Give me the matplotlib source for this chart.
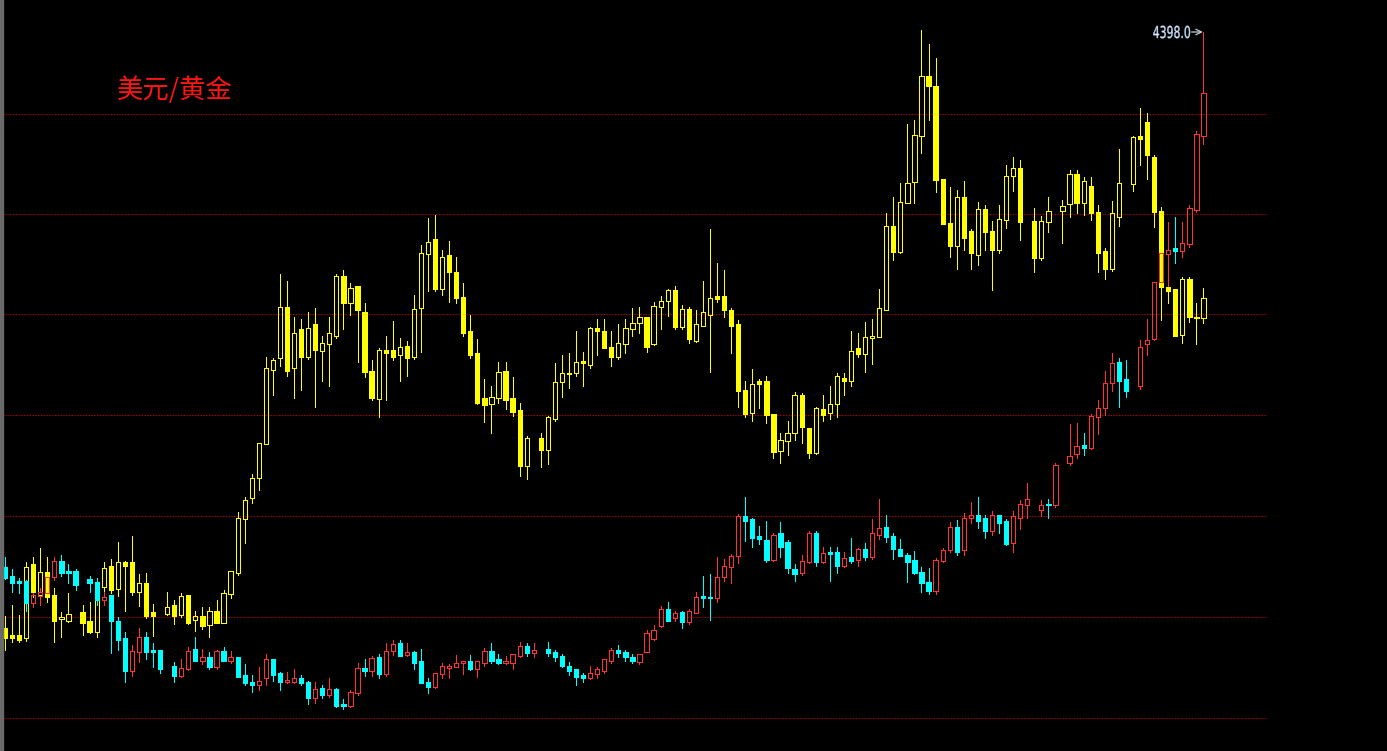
import numpy as np
import matplotlib
matplotlib.use("Agg")
import matplotlib.pyplot as plt
from matplotlib.patches import Rectangle, PathPatch
from matplotlib.textpath import TextPath
from matplotlib.font_manager import FontProperties
from matplotlib.transforms import Affine2D

N = None

# yellow series (drawn as 美元 overlay), weekly OHLC in chart price units
usd_open = [2015, 1986, 1986, 1975, 2270, 2146, 2239, 2146, 2050, 2043,
            N, 2077, 2042, 1997, 2179, 2262, 2169, 2277, 2277, 2159,
            2195, 2077, N, 2070, 2105, 2065, 2146, 2046, 2062, 2025,
            2083, 2035, 2149, 2235, 2451, 2533, 2615, 2749, 3046, 3093,
            3297, 3053, 3209, 3099, 3230, 3122, 3149, 3182, 3423, 3315,
            3382, 3277, 3042, 2929, 3126, 3126, 3106, 3142, 3099, 3293,
            3509, 3569, 3369, 3506, 3437, 3339, 3202, 3113, 2933, 2910,
            2933, 3043, 2933, 2886, 2663, N, 2773, 2726, 2850, 2997,
            3030, 3033, 3083, 3066, 3215, 3202, 3139, 3099, 3149, 3210,
            3233, 3257, 3150, 3299, 3322, 3366, 3217, 3289, 3163, 3223,
            3266, 3342, 3342, 3286, 3230, 2966, 2873, 3002, 3002, 2870,
            2722, 2762, 2793, 2946, 2815, 2715, 2890, 2873, 2909, 3015,
            3003, 3133, 3109, 3175, 3177, 3286, 3624, 3520, 3716, 3799,
            3984, 4224, 4182, 3809, 3636, 3542, 3738, 3602, 3508, 3690,
            3602, 3528, 3646, 3821, 3856, N, 3642, 3493, 3639, N,
            3682, 3710, 3830, 3715, 3782, 3677, 3522, 3450, 3659, N,
            3790, 3982, 4037, 3899, 3683, 3379, 3369, 3186, 3409, 3259, 3253]
usd_high = [2062, 2105, 2066, 2277, 2297, 2333, 2297, 2173, 2079, 2153,
            N, 2106, 2119, 2199, 2277, 2289, 2359, 2283, 2382, 2230,
            2235, 2110, N, 2159, 2126, 2153, 2146, 2083, 2097, 2099,
            2126, 2166, 2242, 2479, 2539, 2630, 2753, 3099, 3093, 3430,
            3403, 3259, 3250, 3279, 3293, 3182, 3259, 3430, 3446, 3395,
            3382, 3313, 3086, 3133, 3182, 3243, 3175, 3162, 3346, 3546,
            3653, 3666, 3526, 3562, 3499, 3395, 3266, 3169, 3010, 2982,
            3077, 3077, 3017, 2913, 2782, N, 2793, 2862, 3073, 3106,
            3113, 3202, 3119, 3219, 3250, 3250, 3202, 3230, 3250, 3293,
            3299, 3257, 3319, 3342, 3369, 3382, 3306, 3297, 3286, 3402,
            3610, 3473, 3446, 3293, 3246, 3002, 3050, 3010, 3022, 2870,
            2795, 2843, 2959, 2953, 2815, 2899, 2946, 2982, 3033, 3035,
            3202, 3195, 3237, 3250, 3369, 3673, 3739, 3794, 4031, 4046,
            4405, 4350, 4293, 3809, 3779, 3767, 3802, 3609, 3720, 3705,
            3642, 3705, 3865, 3898, 3886, N, 3693, 3664, 3739, N,
            3726, 3846, 3846, 3817, 3817, 3706, 3533, 3722, 3929, N,
            3982, 4093, 4073, 3906, 3699, 3406, 3369, 3417, 3417, 3313, 3375]
usd_low = [1926, 1959, 1959, 1962, 2139, 2119, 2119, 1959, 1979, 2039,
           N, 1986, 1993, 1979, 2139, 2153, 2142, 2083, 2146, 2103,
           2055, 1982, N, 2066, 2029, 2057, 2029, 2002, 2009, 1979,
           2035, 2035, 2133, 2226, 2353, 2513, 2566, 2749, 2946, 3062,
           3022, 2933, 2966, 3090, 2899, 3003, 2982, 3175, 3210, 3266,
           3079, 3017, 2926, 2857, 2926, 3086, 3002, 3022, 3090, 3119,
           3362, 3362, 3346, 3319, 3315, 3182, 3093, 2910, 2837, 2795,
           2913, 2890, 2863, 2622, 2609, N, 2657, 2670, 2843, 2939,
           2975, 3022, 2982, 3053, 3106, 3133, 3063, 3090, 3113, 3182,
           3195, 3119, 3146, 3210, 3263, 3210, 3210, 3155, 3159, 3223,
           3037, 3319, 3259, 3113, 2899, 2857, 2843, 2893, 2833, 2693,
           2673, 2706, 2766, 2755, 2693, 2709, 2843, 2850, 2859, 2946,
           2983, 3099, 3037, 3070, 3177, 3286, 3486, 3513, 3716, 3716,
           3916, 4046, 3757, 3631, 3498, 3450, 3528, 3450, 3465, 3528,
           3368, 3513, 3616, 3762, 3567, N, 3439, 3486, 3597, N,
           3555, 3659, 3673, 3666, 3646, 3437, 3410, 3443, 3623, N,
           3763, 3866, 3810, 3619, 3246, 3313, 3182, 3155, 3239, 3149, 3233]
usd_close = [1973, 1973, 1966, 2259, 2159, 2239, 2139, 2043, 2057, 2070,
             N, 2035, 1999, 2126, 2255, 2166, 2277, 2263, 2159, 2193,
             2062, 2063, N, 2097, 2063, 2143, 2035, 2062, 2022, 2082,
             2035, 2153, 2242, 2455, 2526, 2613, 2753, 3055, 3086, 3297,
             3043, 3193, 3099, 3215, 3126, 3153, 3195, 3423, 3313, 3373,
             3286, 3037, 2933, 3126, 3113, 3099, 3139, 3093, 3290, 3513,
             3559, 3369, 3497, 3439, 3333, 3195, 3106, 2913, 2906, 2939,
             3037, 2926, 2877, 2663, 2773, N, 2726, 2857, 2999, 3035,
             3035, 3077, 3073, 3215, 3203, 3135, 3099, 3153, 3215, 3235,
             3257, 3139, 3303, 3323, 3366, 3217, 3289, 3169, 3229, 3277,
             3333, 3329, 3286, 3223, 2962, 2870, 2989, 2989, 2866, 2719,
             2766, 2793, 2946, 2817, 2713, 2893, 2866, 2910, 3022, 3003,
             3123, 3109, 3179, 3182, 3293, 3621, 3520, 3717, 3794, 3987,
             4224, 4184, 3805, 3631, 3542, 3738, 3576, 3513, 3690, 3597,
             3528, 3649, 3821, 3856, 3639, N, 3493, 3642, 3683, N,
             3703, 3830, 3715, 3802, 3673, 3513, 3450, 3673, 3795, N,
             3977, 3970, 3906, 3679, 3379, 3363, 3182, 3409, 3259, 3253, 3333]

# gold series (red up / cyan down)
gold_open = [2257, 2222, 2202, 2202, 2113, 2142, 2155, 2217, 2283, 2242,
             2242, N, 2209, 2199, 2126, 2146, 2043, 1973, 1843, 1919,
             1979, 1926, 1926, N, 1862, 1822, 1849, 1930, 1883, 1897,
             1857, 1923, 1883, 1897, 1826, 1799, 1786, 1815, 1889, 1833,
             1799, 1799, 1813, 1799, 1733, 1773, 1746, 1770, 1710, 1703,
             1753, 1855, 1843, 1897, 1829, 1922, 1953, 1906, 1917, 1882,
             1799, 1779, 1829, 1855, 1857, 1873, 1882, 1849, 1875, 1923,
             1890, 1875, 1875, 1903, 1943, 1913, N, 1930, 1917, 1903,
             1862, 1849, 1826, 1815, 1830, 1843, 1883, 1926, 1917, 1897,
             1877, 1919, 1969, 2023, 2089, 2053, 2077, 2037, 2073, 2143,
             2139, 2133, 2217, 2257, 2302, 2463, 2449, 2382, 2366, 2286,
             2393, 2359, 2250, 2233, 2279, 2393, 2279, 2319, 2317, 2263,
             2297, 2286, 2330, 2299, 2387, 2419, 2384, 2332, 2308, 2286,
             2239, 2197, 2164, 2283, 2325, 2419, 2325, 2453, 2468, 2453,
             2402, 2468, 2442, 2353, 2456, 2505, N, 2486, 2511, 2505,
             N, 2673, 2709, 2746, 2735, 2859, 2895, 2993, 3077, 3009,
             N, 2983, 3149, 3169, 3399, 3509, 3533, 3523, 3550, 3686, 3983]
gold_high = [2299, 2249, 2215, 2206, 2179, 2173, 2226, 2297, 2306, 2270,
             2249, N, 2222, 2213, 2159, 2146, 2057, 1999, 1946, 2013,
             1999, 1953, 1926, N, 1877, 1889, 1937, 1979, 1930, 1917,
             1926, 1937, 1923, 1897, 1870, 1826, 1857, 1910, 1889, 1839,
             1839, 1849, 1826, 1803, 1799, 1786, 1813, 1775, 1729, 1766,
             1875, 1889, 1902, 1910, 1953, 1966, 1966, 1953, 1923, 1930,
             1813, 1835, 1875, 1869, 1906, 1882, 1906, 1882, 1933, 1953,
             1910, 1902, 1909, 1957, 1953, 1953, N, 1957, 1926, 1910,
             1877, 1849, 1833, 1862, 1857, 1889, 1933, 1946, 1926, 1910,
             1909, 2006, 2026, 2102, 2119, 2083, 2083, 2090, 2159, 2222,
             2230, 2297, 2289, 2310, 2470, 2539, 2455, 2422, 2442, 2393,
             2437, 2366, 2270, 2306, 2402, 2402, 2339, 2339, 2339, 2317,
             2375, 2333, 2355, 2450, 2530, 2465, 2394, 2372, 2316, 2323,
             2258, 2253, 2295, 2335, 2439, 2446, 2476, 2517, 2538, 2465,
             2483, 2468, 2449, 2483, 2525, 2594, N, 2525, 2532, 2675,
             N, 2830, 2835, 2793, 2869, 2926, 3043, 3115, 3093, 3086,
             N, 3166, 3250, 3399, 3519, 3639, 3659, 3639, 3706, 4003, 4398]
gold_low = [2209, 2159, 2153, 2083, 2097, 2106, 2146, 2206, 2222, 2195,
            2166, N, 2159, 2106, 2106, 1913, 1926, 1799, 1823, 1877,
            1890, 1857, 1835, N, 1799, 1819, 1846, 1883, 1870, 1849,
            1849, 1883, 1875, 1819, 1786, 1759, 1766, 1786, 1803, 1766,
            1795, 1793, 1786, 1710, 1715, 1733, 1739, 1697, 1689, 1697,
            1746, 1822, 1822, 1815, 1822, 1906, 1903, 1903, 1849, 1793,
            1753, 1773, 1815, 1815, 1857, 1829, 1846, 1819, 1862, 1875,
            1869, 1869, 1849, 1897, 1903, 1899, N, 1903, 1883, 1857,
            1826, 1786, 1799, 1809, 1815, 1835, 1875, 1897, 1883, 1875,
            1870, 1919, 1966, 2017, 2043, 2043, 2015, 2030, 2073, 2097,
            2046, 2119, 2202, 2195, 2273, 2362, 2339, 2349, 2279, 2283,
            2299, 2233, 2202, 2226, 2273, 2263, 2273, 2202, 2235, 2257,
            2273, 2263, 2286, 2290, 2372, 2360, 2290, 2302, 2199, 2231,
            2157, 2150, 2150, 2280, 2320, 2308, 2308, 2434, 2413, 2376,
            2387, 2394, 2347, 2317, 2409, 2453, N, 2461, 2453, 2498,
            N, 2666, 2693, 2706, 2729, 2789, 2866, 2963, 2899, 2939,
            N, 2969, 3106, 3166, 3393, 3366, 3473, 3499, 3539, 3679, 3950]
gold_close = [2213, 2195, 2195, 2113, 2145, 2159, 2219, 2282, 2235, 2235,
              2186, N, 2193, 2126, 2139, 2043, 1966, 1843, 1923, 1979,
              1919, 1919, 1849, N, 1822, 1853, 1923, 1883, 1897, 1857,
              1923, 1883, 1897, 1819, 1793, 1786, 1803, 1889, 1826, 1799,
              1806, 1813, 1793, 1733, 1770, 1746, 1770, 1703, 1703, 1757,
              1853, 1842, 1895, 1829, 1923, 1949, 1903, 1917, 1875, 1795,
              1779, 1833, 1862, 1862, 1875, 1882, 1849, 1882, 1923, 1882,
              1875, 1882, 1909, 1943, 1913, 1926, N, 1913, 1899, 1863,
              1843, 1819, 1815, 1833, 1849, 1889, 1926, 1913, 1897, 1883,
              1909, 1993, 2006, 2089, 2043, 2075, 2037, 2082, 2137, 2133,
              2133, 2219, 2262, 2302, 2462, 2443, 2375, 2369, 2286, 2386,
              2339, 2253, 2230, 2282, 2393, 2277, 2315, 2310, 2263, 2295,
              2283, 2330, 2299, 2393, 2416, 2379, 2330, 2302, 2280, 2234,
              2194, 2164, 2286, 2327, 2419, 2320, 2453, 2468, 2442, 2402,
              2465, 2434, 2350, 2461, 2510, 2530, N, 2508, 2505, 2668,
              N, 2703, 2743, 2735, 2862, 2895, 2993, 3075, 3003, 2962,
              N, 3139, 3166, 3399, 3513, 3526, 3522, 3553, 3693, 3989, 4153]

grid_levels = [4072, 3672, 3272, 2868, 2464, 2060, 1656]
last_high = 4398.0
title = "美元/黄金"

PX = 0.72  # one pixel in points at dpi 100
W = 0.6    # body width in bar units


def draw_candles(ax, o, h, l, c, up_color, down_color):
    o, h, l, c = (np.array(v, dtype=float) for v in (o, h, l, c))
    x = np.arange(len(o))
    ok = ~np.isnan(o)
    x, o, h, l, c = x[ok], o[ok], h[ok], l[ok], c[ok]
    up = c >= o
    top = np.maximum(o, c)
    bot = np.minimum(o, c)
    for mask, col, face in ((up, up_color, "none"), (~up, down_color, down_color)):
        ax.vlines(x[mask], top[mask], h[mask], colors=col, lw=PX,
                  antialiased=False, zorder=3)
        ax.vlines(x[mask], l[mask], bot[mask], colors=col, lw=PX,
                  antialiased=False, zorder=3)
        ax.bar(x[mask], (top - bot)[mask], bottom=bot[mask], width=W,
               facecolor=face, edgecolor=col, linewidth=PX,
               antialiased=False, zorder=4)


fig = plt.figure(figsize=(13.87, 7.51), dpi=100, facecolor="black")
ax = fig.add_axes([0, 0, 1, 1])
ax.set_facecolor("black")
ax.set_xlim(-0.71, 196.03)
ax.set_ylim(1522, 4526)
ax.set_axis_off()

# dotted red price grid
ax.hlines(grid_levels, -0.14, 179, colors="#b00000", lw=PX,
          linestyles=(0, (1.4, 1.4)), zorder=1)

draw_candles(ax, usd_open, usd_high, usd_low, usd_close, "#ffff00", "#ffff00")
draw_candles(ax, gold_open, gold_high, gold_low, gold_close, "#ff3333", "#00ffff")

# last price marker: narrow label drawn as a squeezed text path
n = len(gold_high)
tp = TextPath((0, 0), f"{last_high:.1f}", size=16.5,
              prop=FontProperties(family="DejaVu Sans"))
bb = tp.get_extents()
xd, yd = ax.transData.transform((n - 2.9, last_high))
tr = (Affine2D().translate(-bb.x1, -(bb.y0 + bb.y1) / 2)
      .scale(0.66, 1.0).translate(xd, yd))
fig.add_artist(PathPatch(tp, transform=tr, facecolor="#e4ecf8",
                         edgecolor="#9fc4ea", lw=0.3, zorder=5))
ax.annotate("", xy=(n - 1.1, last_high), xytext=(n - 2.7, last_high),
            arrowprops=dict(arrowstyle="->", color="#c8d0d8", lw=0.9,
                            shrinkA=0, shrinkB=0), zorder=5)

fig.text(117 / 1387, 1 - 90 / 751, title, color="#ff1414", fontsize=19,
         ha="left", va="center", family=["Noto Sans CJK SC", "DejaVu Sans"])

# grey strip on the left edge
fig.add_artist(Rectangle((0, 0), 3 / 1387, 1, transform=fig.transFigure,
                         color="#6a6a6a", zorder=10))

fig.savefig("out.png", dpi=100, facecolor="black")
